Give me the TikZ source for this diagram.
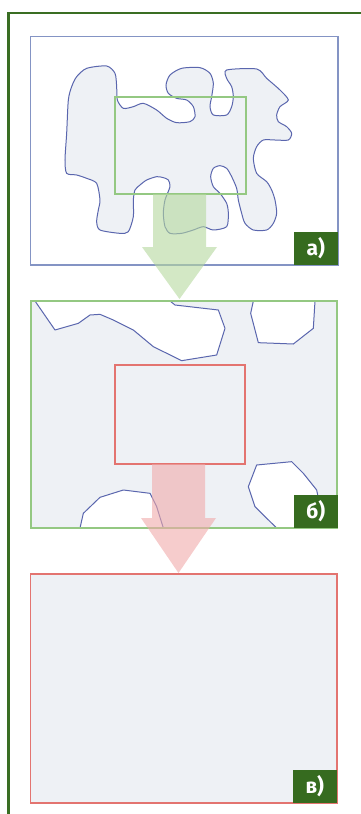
\documentclass[tikz,border=0pt]{standalone}
\usepackage{fontspec}
\setmainfont{Fira Sans}
\definecolor{frameg}{HTML}{3A6E23}
\definecolor{labg}{HTML}{366B1F}
\definecolor{fillc}{HTML}{EEF1F5}
\definecolor{blobc}{HTML}{5A66AE}
\definecolor{bluer}{HTML}{8494C4}
\definecolor{greenr}{HTML}{94C882}
\definecolor{redr}{HTML}{E37470}
\definecolor{garrow}{HTML}{B5D89E}
\definecolor{rarrow}{HTML}{F0AAAA}
\tikzset{
  lab/.style={fill=labg, text=white, font=\bfseries\fontsize{21}{23}\selectfont, inner sep=0pt, minimum width=44, minimum height=33, anchor=south east},
  blobline/.style={draw=blobc, line width=1pt, line join=round},
  panel/.style={line width=1.3pt},
}
\begin{document}
\begin{tikzpicture}[x=1pt,y=-1pt]
\useasboundingbox (0,0) rectangle (361,814);
% frame
\draw[frameg, line width=2.4pt] (8.5,814) -- (8.5,13) -- (361,13);
% ---- panel a
\draw[bluer, panel, fill=white] (30.5,36.5) rectangle (338,265);
\begin{scope}[scale=1/3]
\draw[blobline, fill=fillc] plot[smooth cycle, tension=0.45] coordinates {
(230,230) (260,205) (320,198) (345,220) (350,260) (352,300) (370,325) (400,320) (430,310) (470,330) (500,355) (530,368) (570,365) (585,350) (580,320) (560,300) (530,295) (505,280) (498,255) (510,225) (545,205) (600,203) (630,220) (640,250) (635,290) (630,320) (640,345) (680,345) (695,320) (700,290) (695,260) (680,235) (680,210) (770,207) (800,235) (840,270) (865,300) (840,320) (830,345) (835,365) (860,380) (875,400) (865,420) (825,420) (790,420) (770,440) (760,475) (770,520) (800,545) (815,570) (825,600) (830,640) (820,670) (800,690) (760,690) (735,670) (725,640) (715,600) (710,565) (695,530) (680,505) (660,497) (640,505) (632,530) (640,560) (660,580) (680,610) (685,640) (680,680) (640,690) (610,680) (580,690) (545,700) (510,700) (495,680) (490,640) (495,600) (510,560) (505,540) (490,533) (470,530) (440,540) (420,555) (405,570) (400,600) (400,650) (385,695) (360,700) (300,690) (290,665) (295,630) (300,600) (290,550) (260,535) (230,525) (200,520) (195,480) (200,400) (205,300) (215,260)};
\end{scope}
\draw[greenr, line width=1.1pt] (115,97) rectangle (246,194);
\node[lab] (la) at (338,265) {а)};
% green arrow
\fill[garrow, opacity=0.6] (153,194) -- (206,194) -- (206,247) -- (217,247) -- (179.5,299) -- (142,247) -- (153,247) -- cycle;
% ---- panel b
\fill[fillc] (31,301) rectangle (337,528);
\begin{scope}[shift={(0,280)}, scale=1/3]
\fill[white] (105,63) -- (165,150) -- (235,130) -- (270,105) -- (300,103) -- (340,120) -- (400,150) -- (460,200) -- (545,242) -- (650,225) -- (675,145) -- (655,90) -- (525,75) -- (510,63) -- cycle;
\draw[blobline] (105,63) -- (165,150) -- (235,130) -- (270,105) -- (300,103) -- (340,120) -- (400,150) -- (460,200) -- (545,242) -- (650,225) -- (675,145) -- (655,90) -- (525,75) -- (510,63);
\fill[white] (760,63) -- (752,100) -- (775,188) -- (880,192) -- (940,145) -- (945,63) -- cycle;
\draw[blobline] (760,63) -- (752,100) -- (775,188) -- (880,192) -- (940,145) -- (945,63);
\fill[white] (240,744) -- (250,700) -- (300,652) -- (370,630) -- (450,640) -- (470,680) -- (490,744) -- cycle;
\draw[blobline] (240,744) -- (250,700) -- (300,652) -- (370,630) -- (450,640) -- (470,680) -- (490,744);
\fill[white] (830,744) -- (790,705) -- (765,680) -- (745,620) -- (770,555) -- (875,545) -- (910,580) -- (950,630) -- (965,700) -- (965,744) -- cycle;
\draw[blobline] (830,744) -- (790,705) -- (765,680) -- (745,620) -- (770,555) -- (875,545) -- (910,580) -- (950,630) -- (965,700);
\end{scope}
\draw[greenr, panel] (31,301) rectangle (337,528);
\draw[redr, line width=1.1pt] (115,365) rectangle (245,464);
\node[lab] (lb) at (338,528) {б)};
% red arrow
\fill[rarrow, opacity=0.6] (152,464) -- (205,464) -- (205,518) -- (216,518) -- (178.5,573) -- (141,518) -- (152,518) -- cycle;
% ---- panel c
\draw[redr, line width=1.4pt, fill=fillc] (30.5,574) rectangle (337,803);
\node[lab] (lc) at (337,803) {в)};
\end{tikzpicture}
\end{document}
